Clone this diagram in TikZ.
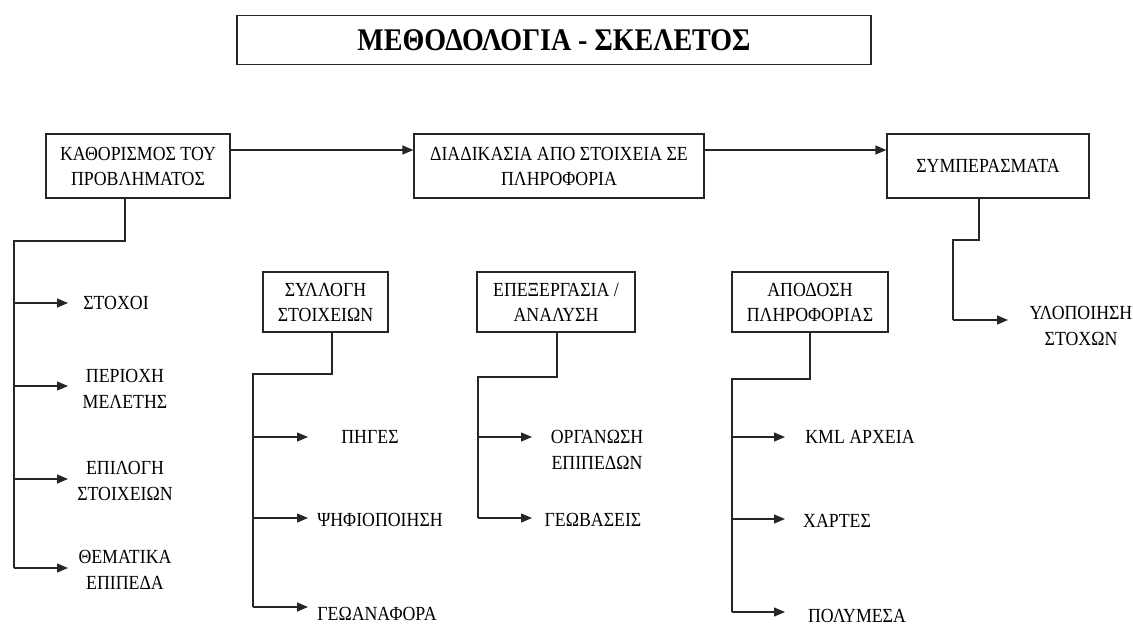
\documentclass[tikz,border=0pt]{standalone}
\usepackage{fontspec}
\setmainfont[FakeStretch=0.89]{Liberation Serif}
\usetikzlibrary{arrows.meta}
\begin{document}
\begin{tikzpicture}[x=1pt,y=-1pt,
  box/.style={draw=black!85,line width=1.2pt,fill=white,align=center,inner sep=2pt,
    font=\fontsize{20}{25}\selectfont},
  lab/.style={align=center,inner sep=0pt,font=\fontsize{20}{25.5}\selectfont},
  ln/.style={draw=black!85,line width=1.2pt},
  arr/.style={draw=black!85,line width=1.2pt,-{Triangle[length=11pt,width=9pt]}}]
\useasboundingbox (0,0) rectangle (1133,625);

% title
\node[box,minimum width=634,minimum height=49,font=\bfseries\fontsize{31.5}{32}\selectfont] (title) at (554,40) {ΜΕΘΟΔΟΛΟΓΙΑ - ΣΚΕΛΕΤΟΣ};

% main boxes
\node[box,minimum width=184,minimum height=64] (b1) at (138,166) {ΚΑΘΟΡΙΣΜΟΣ ΤΟΥ\\ΠΡΟΒΛΗΜΑΤΟΣ};
\node[box,minimum width=290,minimum height=64] (b2) at (559,166) {ΔΙΑΔΙΚΑΣΙΑ ΑΠΟ ΣΤΟΙΧΕΙΑ ΣΕ\\ΠΛΗΡΟΦΟΡΙΑ};
\node[box,minimum width=202,minimum height=64] (b3) at (988,166) {ΣΥΜΠΕΡΑΣΜΑΤΑ};

\draw[arr] (b1.east |- 0,150) -- (b2.west |- 0,150);
\draw[arr] (b2.east |- 0,150) -- (b3.west |- 0,150);

% sub boxes
\node[box,minimum width=125,minimum height=60] (sA) at (325.5,302) {ΣΥΛΛΟΓΗ\\ΣΤΟΙΧΕΙΩΝ};
\node[box,minimum width=158,minimum height=60] (sB) at (556,302) {ΕΠΕΞΕΡΓΑΣΙΑ /\\ΑΝΑΛΥΣΗ};
\node[box,minimum width=156,minimum height=60] (sC) at (810,302) {ΑΠΟΔΟΣΗ\\ΠΛΗΡΟΦΟΡΙΑΣ};

% labels
\node[lab] (l11) at (116,303) {ΣΤΟΧΟΙ};
\node[lab] (l12) at (125,389) {ΠΕΡΙΟΧΗ\\ΜΕΛΕΤΗΣ};
\node[lab] (l13) at (125,481) {ΕΠΙΛΟΓΗ\\ΣΤΟΙΧΕΙΩΝ};
\node[lab] (l14) at (125,570) {ΘΕΜΑΤΙΚΑ\\ΕΠΙΠΕΔΑ};
\node[lab] (lA1) at (370,437) {ΠΗΓΕΣ};
\node[lab] (lA2) at (380,520) {ΨΗΦΙΟΠΟΙΗΣΗ};
\node[lab] (lA3) at (377,614) {ΓΕΩΑΝΑΦΟΡΑ};
\node[lab] (lB1) at (597,450) {ΟΡΓΑΝΩΣΗ\\ΕΠΙΠΕΔΩΝ};
\node[lab] (lB2) at (593,520) {ΓΕΩΒΑΣΕΙΣ};
\node[lab] (lC1) at (860,437) {KML ΑΡΧΕΙΑ};
\node[lab] (lC2) at (837,521) {ΧΑΡΤΕΣ};
\node[lab] (lC3) at (857,616) {ΠΟΛΥΜΕΣΑ};
\node[lab] (l31) at (1081,326) {ΥΛΟΠΟΙΗΣΗ\\ΣΤΟΧΩΝ};

% tree 1
\coordinate (k1) at (14,241);
\draw[ln] (b1.south -| 125,0) |- (k1) -- (k1 |- 0,568);
\draw[arr] (k1 |- 0,303) -- (68,303);
\draw[arr] (k1 |- 0,386) -- (68,386);
\draw[arr] (k1 |- 0,479) -- (68,479);
\draw[arr] (k1 |- 0,568) -- (68,568);

% tree A
\coordinate (kA) at (253,374);
\draw[ln] (sA.south -| 332,0) |- (kA) -- (kA |- 0,607);
\draw[arr] (kA |- 0,437) -- (308,437);
\draw[arr] (kA |- 0,518) -- (308,518);
\draw[arr] (kA |- 0,607) -- (308,607);

% tree B
\coordinate (kB) at (478,377);
\draw[ln] (sB.south -| 557,0) |- (kB) -- (kB |- 0,518);
\draw[arr] (kB |- 0,437) -- (532,437);
\draw[arr] (kB |- 0,518) -- (532,518);

% tree C
\coordinate (kC) at (732,379);
\draw[ln] (sC.south -| 810,0) |- (kC) -- (kC |- 0,612);
\draw[arr] (kC |- 0,437) -- (785,437);
\draw[arr] (kC |- 0,519) -- (785,519);
\draw[arr] (kC |- 0,612) -- (785,612);

% tree 3
\coordinate (k3) at (953,240);
\draw[ln] (b3.south -| 979,0) |- (k3) -- (k3 |- 0,320);
\draw[arr] (k3 |- 0,320) -- (1008,320);
\end{tikzpicture}
\end{document}
